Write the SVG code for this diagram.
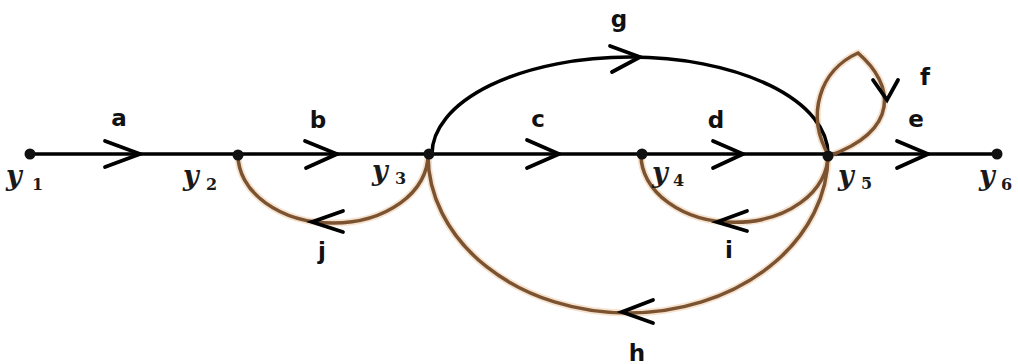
<svg xmlns="http://www.w3.org/2000/svg" width="1018" height="364" viewBox="0 0 1018 364">
<style>
.blk{fill:none;stroke:#000;stroke-width:3.5;stroke-linecap:round}
.brn{fill:none;stroke:#7b5331;stroke-width:3.5}
.halo{fill:none;stroke:#f5e2cf;stroke-width:7}
.arw{fill:none;stroke:#000;stroke-width:3.8;stroke-linecap:round;stroke-linejoin:miter}
.lbl{font-family:"DejaVu Sans",Verdana,sans-serif;font-weight:bold;font-size:23px;fill:#111;text-anchor:middle}
.var{font-family:"DejaVu Serif","Liberation Serif",serif;font-style:italic;font-weight:bold;font-size:27px;fill:#1a1a1a}
.sub{font-family:"DejaVu Serif","Liberation Serif",serif;font-weight:bold;font-size:16px;fill:#1a1a1a}
.dot{fill:#111}
</style>
<rect width="1018" height="364" fill="#fff"/>
<g id="connectors">
  <path class="halo" d="M238,155 A95,68 0 0 0 428,155"/>
  <path class="halo" d="M641,155 A93,67 0 0 0 828,155"/>
  <path class="halo" d="M428,155 A200,158 0 0 0 828,155"/>
  <path class="halo" d="M829,156 C805,115 820,70 858,53 C895,85 900,130 829,156"/>
  <line class="blk" x1="30" y1="154" x2="997" y2="154"/>
  <path class="blk" d="M432,154 A198,97 0 0 1 828,154"/>
  <path class="brn" d="M238,155 A95,68 0 0 0 428,155"/>
  <path class="brn" d="M641,155 A93,67 0 0 0 828,155"/>
  <path class="brn" d="M428,155 A200,158 0 0 0 828,155"/>
  <path class="brn" d="M829,156 C805,115 820,70 858,53 C895,85 900,130 829,156"/>
  <polyline class="arw" points="105,141 140,154 105,167"/>
  <polyline class="arw" points="305,141 337,154 306,168"/>
  <polyline class="arw" points="527,140 559,154 527,168"/>
  <polyline class="arw" points="713,141 743,154 713,168"/>
  <polyline class="arw" points="897,141 928,154 897,168"/>
  <polyline class="arw" points="610,46 640,57 612,72"/>
  <polyline class="arw" points="873,80 887,100 898,80"/>
  <polyline class="arw" points="653,300 622,312 653,323"/>
  <polyline class="arw" points="747,211 717,222 747,231"/>
  <polyline class="arw" points="343,211 312,222 343,232"/>
  <text class="lbl" x="119" y="126">a</text>
  <text class="lbl" x="318" y="128">b</text>
  <text class="lbl" x="538" y="127">c</text>
  <text class="lbl" x="716" y="128">d</text>
  <text class="lbl" x="916" y="127">e</text>
  <text class="lbl" x="925" y="85">f</text>
  <text class="lbl" x="619" y="27">g</text>
  <text class="lbl" x="637" y="361">h</text>
  <text class="lbl" x="729" y="258">i</text>
  <text class="lbl" x="322" y="259">j</text>
</g>
<g id="y1"><circle class="dot" cx="30" cy="154" r="5.5"/><text class="var" x="6" y="185">y</text><text class="sub" x="32" y="190">1</text></g>
<g id="y2"><circle class="dot" cx="238" cy="155" r="5.5"/><text class="var" x="183" y="185">y</text><text class="sub" x="206" y="190">2</text></g>
<g id="y3"><circle class="dot" cx="429" cy="154" r="5.5"/><text class="var" x="372" y="180">y</text><text class="sub" x="395" y="184">3</text></g>
<g id="y4"><circle class="dot" cx="642" cy="154" r="5.5"/><text class="var" x="652" y="182">y</text><text class="sub" x="673" y="186">4</text></g>
<g id="y5"><circle class="dot" cx="828" cy="156" r="5.5"/><text class="var" x="838" y="185">y</text><text class="sub" x="861" y="189">5</text></g>
<g id="y6"><circle class="dot" cx="997" cy="154" r="5.5"/><text class="var" x="979" y="185">y</text><text class="sub" x="1001" y="190">6</text></g>
</svg>
